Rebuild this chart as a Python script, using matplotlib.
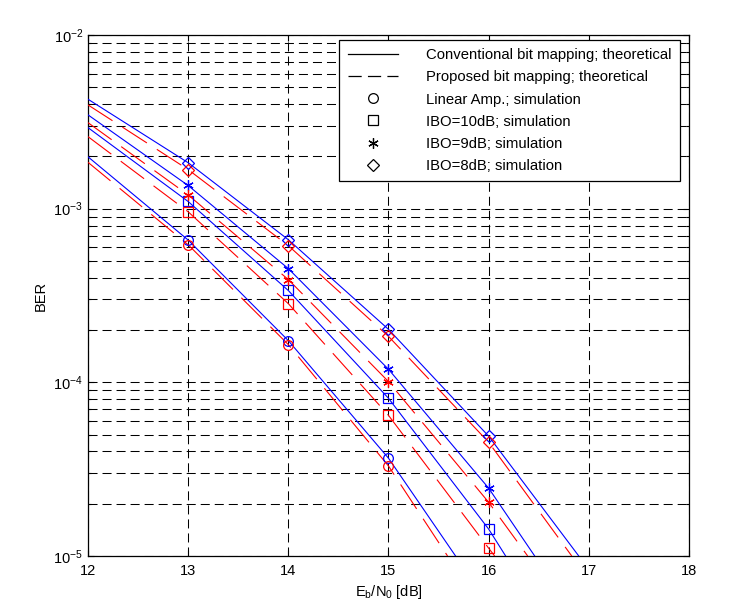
import numpy as np
import matplotlib
matplotlib.use("Agg")
import matplotlib.pyplot as plt
from matplotlib.lines import Line2D
from matplotlib.ticker import LogLocator, NullFormatter

plt.rcParams['font.family'] = ['Liberation Sans', 'DejaVu Sans']
plt.rcParams['mathtext.fontset'] = 'custom'
plt.rcParams['mathtext.rm'] = 'Liberation Sans'
plt.rcParams['mathtext.it'] = 'Liberation Sans:italic'
plt.rcParams['axes.unicode_minus'] = False
plt.rcParams['lines.scale_dashes'] = False

# ---------------- data ----------------
snr_sim = [13, 14, 15, 16]

# simulation, conventional mapping (blue)
conv_lin_sim = [6.6e-4, 1.74e-4, 3.66e-5, np.nan]
conv_10_sim = [1.10e-3, 3.38e-4, 8.1e-5, 1.43e-5]
conv_9_sim = [1.36e-3, 4.52e-4, 1.19e-4, 2.46e-5]
conv_8_sim = [1.84e-3, 6.63e-4, 2.02e-4, 4.9e-5]

# simulation, proposed mapping (red)
prop_lin_sim = [6.2e-4, 1.65e-4, 3.3e-5, np.nan]
prop_10_sim = [9.6e-4, 2.84e-4, 6.46e-5, 1.11e-5]
prop_9_sim = [1.20e-3, 3.91e-4, 1.01e-4, 2.04e-5]
prop_8_sim = [1.68e-3, 6.13e-4, 1.84e-4, 4.52e-5]

# theoretical curves (x, BER)
conv_lin_x = [12, 13, 14, 15, 15.67]
conv_lin_th = [1.99e-3, 6.6e-4, 1.74e-4, 3.66e-5, 1e-5]
conv_10_x = [12, 13, 14, 15, 16, 16.17]
conv_10_th = [2.93e-3, 1.10e-3, 3.38e-4, 8.1e-5, 1.43e-5, 1e-5]
conv_9_x = [12, 13, 14, 15, 16, 16.46]
conv_9_th = [3.47e-3, 1.36e-3, 4.52e-4, 1.19e-4, 2.46e-5, 1e-5]
conv_8_x = [12, 13, 14, 15, 16, 16.9]
conv_8_th = [4.27e-3, 1.84e-3, 6.63e-4, 2.02e-4, 4.9e-5, 1e-5]

prop_lin_x = [12, 13, 14, 15, 15.59]
prop_lin_th = [1.85e-3, 6.2e-4, 1.65e-4, 3.3e-5, 1e-5]
prop_10_x = [12, 13, 14, 15, 16, 16.06]
prop_10_th = [2.60e-3, 9.6e-4, 2.84e-4, 6.46e-5, 1.11e-5, 1e-5]
prop_9_x = [12, 13, 14, 15, 16, 16.39]
prop_9_th = [3.13e-3, 1.20e-3, 3.91e-4, 1.01e-4, 2.04e-5, 1e-5]
prop_8_x = [12, 13, 14, 15, 16, 16.83]
prop_8_th = [3.96e-3, 1.68e-3, 6.13e-4, 1.84e-4, 4.52e-5, 1e-5]

legend_labels = ["Conventional bit mapping; theoretical",
                 "Proposed bit mapping; theoretical",
                 "Linear Amp.; simulation",
                 "IBO=10dB; simulation",
                 "IBO=9dB; simulation",
                 "IBO=8dB; simulation"]

# ---------------- plot ----------------
fig = plt.figure(figsize=(7.5, 6.07), dpi=100)
ax = fig.add_axes([0.1173, 0.0840, 0.8013, 0.8583])
ax.set_yscale('log')
ax.set_xlim(12, 18)
ax.set_ylim(1e-5, 1e-2)

blue = '#0000ff'
red = '#ff0000'
red_dash = (0, (21, 8.5))
asterisk = (6, 2, 0)

conv_th = [(conv_lin_x, conv_lin_th), (conv_10_x, conv_10_th),
           (conv_9_x, conv_9_th), (conv_8_x, conv_8_th)]
prop_th = [(prop_lin_x, prop_lin_th), (prop_10_x, prop_10_th),
           (prop_9_x, prop_9_th), (prop_8_x, prop_8_th)]
for x, y in conv_th:
    ax.plot(x, y, color=blue, lw=0.8, zorder=3)
for x, y in prop_th:
    ax.plot(x, y, color=red, lw=0.8, linestyle=red_dash, zorder=3)

markers = ['o', 's', asterisk, 'D']
msizes = [7, 7.5, 7.5, 6]
conv_sims = [conv_lin_sim, conv_10_sim, conv_9_sim, conv_8_sim]
prop_sims = [prop_lin_sim, prop_10_sim, prop_9_sim, prop_8_sim]
for m, ms, yc, yp in zip(markers, msizes, conv_sims, prop_sims):
    ax.plot(snr_sim, yc, linestyle='none', marker=m, ms=ms, mfc='none',
            mec=blue, mew=0.9, zorder=4)
    ax.plot(snr_sim, yp, linestyle='none', marker=m, ms=ms, mfc='none',
            mec=red, mew=0.9, zorder=4)

# grid
ax.set_xticks([12, 13, 14, 15, 16, 17, 18])
ax.yaxis.set_major_locator(LogLocator(base=10, numticks=10))
ax.yaxis.set_minor_locator(LogLocator(base=10, subs=np.arange(2, 10), numticks=20))
ax.yaxis.set_minor_formatter(NullFormatter())
grid_ls = (0, (6.5, 3.6))
ax.grid(True, which='major', axis='both', color='black', lw=0.75, linestyle=grid_ls)
ax.grid(True, which='minor', axis='y', color='black', lw=0.75, linestyle=grid_ls)
ax.set_axisbelow(True)

ax.tick_params(which='both', direction='in', top=True, right=True,
               labelsize=10.5, width=0.8)
ax.tick_params(which='major', length=4)
ax.tick_params(which='minor', length=2.5)
ax.tick_params(axis='x', pad=6)
for s in ax.spines.values():
    s.set_linewidth(0.9)

ax.set_xlabel(r'E$_\mathrm{b}$/N$_0$ [dB]', fontsize=10.5, labelpad=3)
ax.set_ylabel('BER', fontsize=10.5, labelpad=4)

handles = [Line2D([], [], color='black', lw=0.9),
           Line2D([], [], color='black', lw=0.9, linestyle=(0, (9.5, 4.5)))]
for m, ms in zip(markers, msizes):
    handles.append(Line2D([], [], color='black', linestyle='none', marker=m,
                          ms=ms, mfc='none', mew=0.9))
leg = ax.legend(handles, legend_labels, loc='upper right', fontsize=10.7,
                frameon=True, fancybox=False, edgecolor='black',
                framealpha=1, handlelength=3.4, handletextpad=1.9,
                labelspacing=0.55, borderpad=0.55, borderaxespad=0.0,
                bbox_to_anchor=(680 / 750, 1 - 40 / 607),
                bbox_transform=fig.transFigure)
leg.get_frame().set_linewidth(0.9)

fig.savefig('out.png', dpi=100, facecolor='white')
